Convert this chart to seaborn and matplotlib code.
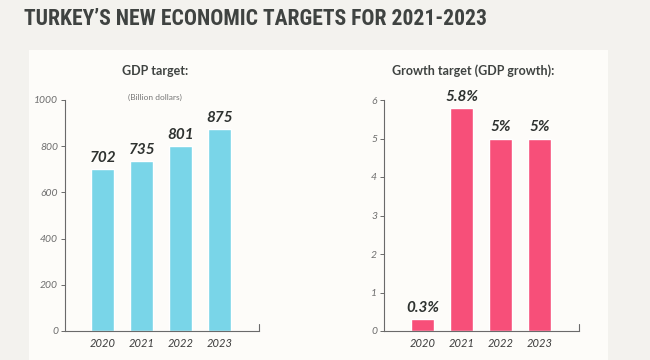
import matplotlib
matplotlib.use("Agg")
import matplotlib.pyplot as plt
import seaborn as sns
import pandas as pd
from matplotlib.patches import Rectangle
from matplotlib import font_manager

# data
years = ["2020", "2021", "2022", "2023"]
gdp_values = [702, 735, 801, 875]
gdp_labels = ["702", "735", "801", "875"]
growth_values = [0.3, 5.8, 5.0, 5.0]
growth_labels = ["0.3%", "5.8%", "5%", "5%"]

sns.set_theme(style="white")
plt.rcParams['font.family'] = ['Lato', 'DejaVu Sans']

BG = "#f3f2ee"
PANEL = "#fdfcf9"
DARK = "#3f4341"
AXIS = "#6a6a6a"

# pick a narrow bold font for the headline if one is around
installed = {f.name for f in font_manager.fontManager.ttflist}
title_font = "Roboto"
for cand in ["Roboto Condensed", "Liberation Sans Narrow", "DejaVu Sans Condensed",
             "Open Sans Condensed", "Noto Sans Condensed"]:
    if cand in installed:
        title_font = cand
        break

fig = plt.figure(figsize=(6.5, 3.6), dpi=100, facecolor=BG)
fig.patches.append(Rectangle((29 / 650, 0), (608 - 29) / 650, 1 - 50 / 360,
                             transform=fig.transFigure, facecolor=PANEL,
                             edgecolor="none", zorder=-5))

title = fig.text(24 / 650, 1 - 19 / 360, "TURKEY\u2019S NEW ECONOMIC TARGETS FOR 2021-2023",
                 ha="left", va="center", fontsize=17, fontweight="heavy",
                 color=DARK, family=[title_font, 'DejaVu Sans'])
# fit the headline width to the reference (about 464 px)
renderer = fig.canvas.get_renderer()
w = title.get_window_extent(renderer).width
title.set_fontsize(min(20, 17 * 464 / w))

gdp_df = pd.DataFrame({"year": years, "value": gdp_values})
growth_df = pd.DataFrame({"year": years, "value": growth_values})

bottom = 1 - 331 / 360
height = (331 - 100) / 360
ax1 = fig.add_axes([65 / 650, bottom, 194 / 650, height])
ax2 = fig.add_axes([384 / 650, bottom, 195 / 650, height])


def style_axis(ax, df, color, labels, ymax, yticks, xlim):
    ax.set_facecolor("none")
    sns.barplot(data=df, x="year", y="value", color=color, width=0.59,
                saturation=1, ax=ax)
    ax.set_xlim(*xlim)
    ax.set_ylim(0, ymax)
    ax.set_yticks(yticks)
    ax.set_xlabel("")
    ax.set_ylabel("")
    for s in ["top", "right"]:
        ax.spines[s].set_visible(False)
    for s in ["left", "bottom"]:
        ax.spines[s].set_color(AXIS)
        ax.spines[s].set_linewidth(0.8)
    ax.tick_params(axis="y", direction="out", left=True, length=3, width=0.7,
                   color=AXIS, labelsize=7.5, labelcolor="#6e6e6e", pad=2)
    ax.tick_params(axis="x", length=0, labelsize=8, labelcolor="#3a3a3a", pad=5)
    for t in ax.get_yticklabels() + ax.get_xticklabels():
        t.set_fontstyle("italic")
    ax.bar_label(ax.containers[0], labels=labels, padding=3, fontsize=11,
                 fontweight="bold", fontstyle="italic", color="#2e3230")
    # small end tick at the right of the x axis
    ax.axvline(xlim[1], ymin=0, ymax=0.03, color=AXIS, lw=0.8, clip_on=False)


style_axis(ax1, gdp_df, "#79d5e8", gdp_labels, 1000, [0, 200, 400, 600, 800, 1000],
           (-0.97, 4.0))
style_axis(ax2, growth_df, "#f74f79", growth_labels, 6, [0, 1, 2, 3, 4, 5, 6],
           (-0.99, 4.01))

fig.text(155 / 650, 1 - 71 / 360, "GDP target:", ha="center", va="center",
         fontsize=9, fontweight="bold", color=DARK)
fig.text(155 / 650, 1 - 97 / 360, "(Billion dollars)", ha="center", va="center",
         fontsize=6, color="#777777")
fig.text(473 / 650, 1 - 71 / 360, "Growth target (GDP growth):", ha="center",
         va="center", fontsize=9, fontweight="bold", color=DARK)

fig.savefig("out.png", dpi=100, facecolor=BG)
